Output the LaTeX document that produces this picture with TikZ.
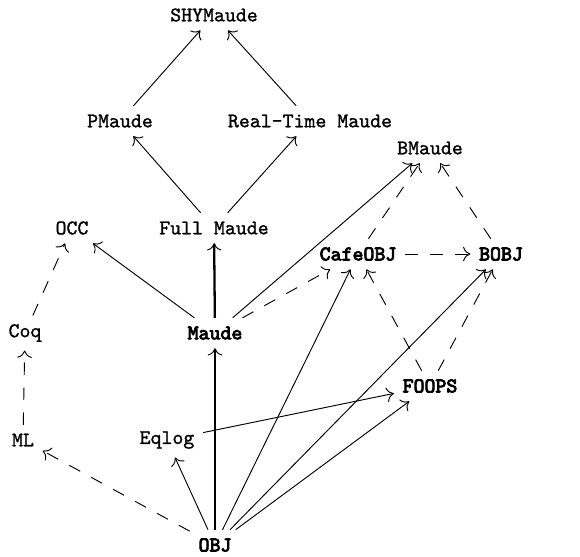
\documentclass[tikz,border=0pt]{standalone}
\usepackage{fontspec}
\newfontfamily\langfont{Latin Modern Mono}[FakeBold=1.2]
\newfontfamily\corefont{Latin Modern Mono}[FakeBold=4]
\usetikzlibrary{arrows.meta}

\tikzset{
  lang/.style={font=\langfont, inner sep=4pt},
  core/.style={font=\corefont, inner sep=4pt},
  ext/.style={-{To[length=3.5pt,width=7pt]}, line width=0.45pt},
  base/.style={-{To[length=3.5pt,width=7pt,line width=0.45pt]}, line width=1.1pt},
  rel/.style={-{To[length=3.5pt,width=7pt]}, line width=0.45pt, dash pattern=on 6pt off 6pt},
}

\begin{document}
\begin{tikzpicture}[x=0.48pt, y=-0.48pt]

\useasboundingbox (0,0) rectangle (580,557);

 % languages, placed by hand on a rough grid
 \node[lang] (SHY) at (214,15) {SHYMaude};
 \node[lang] (PMaude) at (120,121) {PMaude};
 \node[lang] (RTM) at (310,121) {Real-Time Maude};
 \node[lang] (BMaude) at (430,148) {BMaude};
 \node[lang] (OCC) at (72,228) {OCC};
 \node[lang] (Full) at (214,228) {Full Maude};
 \node[core] (Cafe) at (358,254) {CafeOBJ};
 \node[core] (BOBJ) at (501,254) {BOBJ};
 \node[lang] (Coq) at (25,333) {Coq};
 \node[core] (Maude) at (215,333) {Maude};
 \node[core] (FOOPS) at (430,386) {FOOPS};
 \node[lang] (ML) at (23,440) {ML};
 \node[lang] (Eqlog) at (167,440) {Eqlog};
 \node[core] (OBJ) at (215,545) {OBJ};

 % the Maude line
 \draw[base] (OBJ) -- (Maude);
 \draw[base] (Maude) -- (Full);
 \draw[ext] (Full) -- (PMaude);
 \draw[ext] (Full) -- (RTM);
 \draw[ext] (PMaude) -- (SHY);
 \draw[ext] (RTM) -- (SHY);
 \draw[ext] (Maude) -- (OCC);
 \draw[ext] (Maude) -- (BMaude);

 % OBJ family
 \draw[ext] (OBJ) -- (Eqlog);
 \draw[ext] (OBJ) -- (Cafe);
 \draw[ext] (OBJ) -- (BOBJ);
 \draw[ext] (OBJ) -- (FOOPS);
 \draw[ext] (Eqlog) -- (FOOPS);

 % looser influences
 \draw[rel] (OBJ) -- (ML);
 \draw[rel] (ML) -- (Coq);
 \draw[rel] (Coq) -- (OCC);
 \draw[rel] (Maude) -- (Cafe);
 \draw[rel] (Cafe) -- (BMaude);
 \draw[rel] (BOBJ) -- (BMaude);
 \draw[rel] (Cafe) -- (BOBJ);
 \draw[rel] (FOOPS) -- (Cafe);
 \draw[rel] (FOOPS) -- (BOBJ);

\end{tikzpicture}
\end{document}
